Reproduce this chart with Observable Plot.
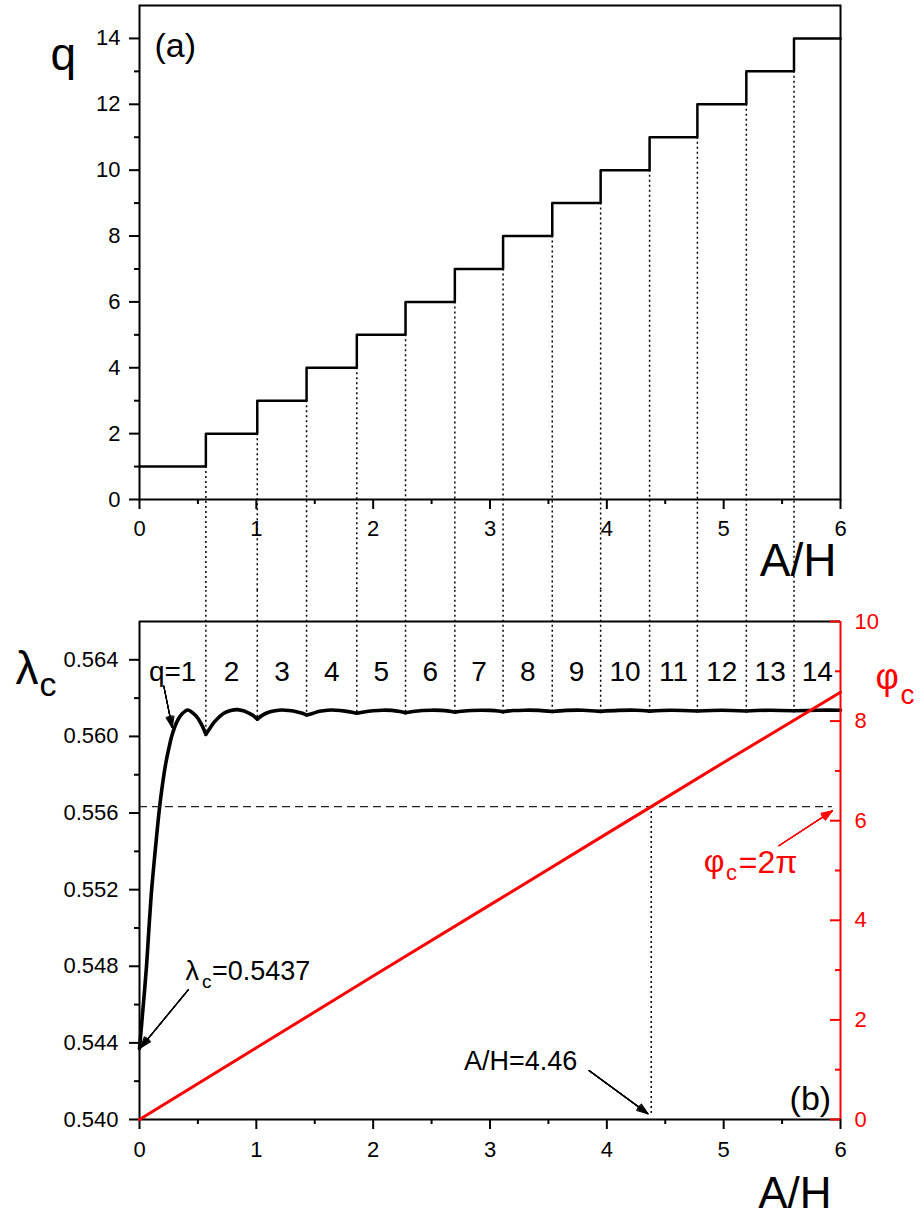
<!DOCTYPE html>
<html><head><meta charset="utf-8">
<script src="https://cdn.jsdelivr.net/npm/d3@7"></script>
<script src="https://cdn.jsdelivr.net/npm/@observablehq/plot@0.6"></script>
<style>
html,body{margin:0;padding:0;background:#fff;}
#wrap{position:relative;width:924px;height:1220px;overflow:hidden;}
#wrap svg{display:block;}
#phi{position:absolute;left:0;top:590px;}
</style></head><body>
<div id="wrap"><div id="top"></div><div id="lam"></div><div id="phi"></div></div>
<script>
// ---------- data ----------
const transitions = [0.568, 1.008, 1.430, 1.860, 2.277, 2.699, 3.112, 3.533, 3.947, 4.366, 4.775, 5.194, 5.602];
const qValues = [1,2,3,4,5,6,7,8,9,10,11,12,13,14];
const qLabels = ["q=1","2","3","4","5","6","7","8","9","10","11","12","13","14"];
const cuspLambda = [0.56011, 0.5609, 0.56112, 0.56121, 0.56124, 0.56127, 0.56129, 0.5613, 0.56131, 0.56132, 0.56133, 0.56133, 0.56134];

const lambdaA = [0, 0.02, 0.04, 0.06, 0.08, 0.10, 0.12, 0.137, 0.17, 0.197, 0.225, 0.252, 0.28, 0.323, 0.365, 0.414, 0.46, 0.494, 0.537, 0.568,
  0.60, 0.636, 0.68, 0.722, 0.78, 0.836, 0.88, 0.922, 0.97, 1.008,
  1.05, 1.10, 1.16, 1.22, 1.28, 1.35, 1.40, 1.43,
  1.48, 1.54, 1.61, 1.68, 1.76, 1.82, 1.86,
  1.92, 2.0, 2.08, 2.16, 2.23, 2.277,
  2.34, 2.42, 2.50, 2.58, 2.65, 2.699,
  2.76, 2.84, 2.92, 3.0, 3.07, 3.112,
  3.2, 3.3, 3.42, 3.533, 3.65, 3.8, 3.947, 4.1, 4.25, 4.366, 4.55, 4.775, 4.98, 5.194, 5.4, 5.602, 5.8, 6.0];
const lambdaV = [0.5437, 0.5451, 0.5465, 0.5480, 0.5499, 0.5517, 0.5531, 0.5542, 0.5562, 0.5575, 0.5586, 0.5594, 0.5601, 0.5608, 0.56118, 0.56138, 0.5612, 0.5610, 0.56055, 0.56011,
  0.5604, 0.56072, 0.5610, 0.56121, 0.56135, 0.5614, 0.56135, 0.56126, 0.5611, 0.5609,
  0.5611, 0.56125, 0.56134, 0.56138, 0.56135, 0.56128, 0.5612, 0.56112,
  0.5612, 0.56131, 0.56137, 0.56137, 0.56132, 0.56126, 0.56121,
  0.56128, 0.56134, 0.56137, 0.56136, 0.5613, 0.56124,
  0.5613, 0.56135, 0.56137, 0.56136, 0.56132, 0.56127,
  0.56131, 0.56135, 0.56137, 0.56136, 0.56133, 0.56129,
  0.56135, 0.56137, 0.56136, 0.5613, 0.56136, 0.56137, 0.56131, 0.56136, 0.56137, 0.56132, 0.56137, 0.56133, 0.56137, 0.56133, 0.56137, 0.56134, 0.56137, 0.56137];

const phiA = [0, 1, 2, 3, 4, 4.38, 5, 6];
const phiV = [0, 1.44, 2.88, 4.31, 5.74, 6.283, 7.17, 8.58];
const phiCritical = 2 * Math.PI;
const aCritical = 4.38;

const xTicks = [0,1,2,3,4,5,6];
const xMinor = [0.5,1.5,2.5,3.5,4.5,5.5];
const qTicks = [0,2,4,6,8,10,12,14];
const qMinor = [1,3,5,7,9,11,13];
const lamTicks = [0.540,0.544,0.548,0.552,0.556,0.560,0.564];
const lamMinor = [0.542,0.546,0.550,0.554,0.558,0.562];
const phiTicks = [0,2,4,6,8,10];
const phiMinor = [1,3,5,7,9];

// ---------- derived tables ----------
const stepX = [0, ...transitions, 6];
const stepQ = [...qValues, 14];
const stepData = stepX.map((x, i) => ({x, q: stepQ[i]}));
const bounds = [0, ...transitions, 6];
// split the lambda curve into one smooth piece per q interval (cusps at the transitions)
const lambdaData = [];
for (let s = 0; s < bounds.length - 1; s++) {
  lambdaA.forEach((a, i) => {
    if (a >= bounds[s] - 1e-9 && a <= bounds[s + 1] + 1e-9) lambdaData.push({a, v: lambdaV[i], seg: s});
  });
}
const phiData = phiA.map((a, i) => ({a, v: phiV[i]}));
const qMid = qLabels.map((_, i) => (bounds[i] + bounds[i + 1]) / 2);

const FONT = "'Liberation Sans', Arial, Helvetica, sans-serif";
const W = 924, ML = 139, MR = 84;
const dotted = {stroke: "black", strokeWidth: 1.5, strokeDasharray: "2,3"};

function arrowMarks(data, color) {
  return [40, 30, 20, 12, 5].map(h => Plot.arrow(data, {
    x1: "x1", y1: "y1", x2: "x2", y2: "y2", stroke: color, strokeWidth: 1.1,
    headLength: 16, headAngle: h
  }));
}

// ---------- panel (a) ----------
const topPlot = Plot.plot({
  width: W, height: 590, marginLeft: ML, marginRight: MR, marginTop: 5, marginBottom: 91,
  style: {fontFamily: FONT, fontSize: "22px", background: "white", overflow: "hidden", color: "black"},
  x: {domain: [0, 6]}, y: {domain: [0, 15]},
  marks: [
    Plot.ruleX(transitions, {x: d => d, y1: (d, i) => qValues[i], y2: -10, ...dotted}),
    Plot.line(stepData, {x: "x", y: "q", curve: "step-after", stroke: "black", strokeWidth: 2.5}),
    Plot.frame({stroke: "black", strokeWidth: 2}),
    Plot.axisX({ticks: xTicks, tickSize: 10, tickPadding: 11, fontSize: 22, strokeWidth: 2, label: null, tickFormat: d => String(d)}),
    Plot.axisX({ticks: xMinor, tickSize: 5, strokeWidth: 2, label: null, tickFormat: () => ""}),
    Plot.axisY({ticks: qTicks, tickSize: 10, tickPadding: 9, fontSize: 22, strokeWidth: 2, label: null, tickFormat: d => String(d)}),
    Plot.axisY({ticks: qMinor, tickSize: 5, strokeWidth: 2, label: null, tickFormat: () => ""}),
    Plot.text(["q"], {text: d => d, frameAnchor: "top-left", textAnchor: "start", lineAnchor: "bottom", dx: -89, dy: 64, fontSize: 46}),
    Plot.text(["(a)"], {text: d => d, x: () => 0.128, y: () => 13.45, textAnchor: "start", lineAnchor: "bottom", fontSize: 34}),
    Plot.text(["A/H"], {text: d => d, frameAnchor: "bottom-right", textAnchor: "end", lineAnchor: "bottom", dx: -4, dy: 76, fontSize: 46})
  ]
});
document.getElementById("top").appendChild(topPlot);

// ---------- panel (b), lambda ----------
const lamPlot = Plot.plot({
  width: W, height: 630, marginLeft: ML, marginRight: MR, marginTop: 31, marginBottom: 101,
  style: {fontFamily: FONT, fontSize: "22px", background: "white", overflow: "hidden", color: "black"},
  x: {domain: [0, 6]}, y: {domain: [0.540, 0.566]},
  marks: [
    Plot.ruleX(transitions, {x: d => d, y1: 0.6, y2: (d, i) => cuspLambda[i], ...dotted}),
    Plot.ruleY([0.566], {stroke: "black", strokeWidth: 2}),
    Plot.ruleY([0.540], {stroke: "black", strokeWidth: 2}),
    Plot.ruleX([0], {stroke: "black", strokeWidth: 2}),
    Plot.line(lambdaData, {x: "a", y: "v", z: "seg", curve: "catmull-rom", stroke: "black", strokeWidth: 3.6, strokeLinejoin: "round", strokeLinecap: "round"}),
    Plot.text(qLabels, {text: d => d, x: (d, i) => qMid[i], y: () => 0.56289, textAnchor: "middle", lineAnchor: "bottom", fontSize: 28}),
    ...arrowMarks([
      {x1: 0.208, y1: 0.56263, x2: 0.280, y2: 0.56046},
      {x1: 0.417, y1: 0.54677, x2: 0.0086, y2: 0.54374},
      {x1: 3.847, y1: 0.54256, x2: 4.352, y2: 0.54030}
    ], "black"),
    Plot.text(["λ"], {text: d => d, x: () => 0.394, y: () => 0.54726, textAnchor: "start", lineAnchor: "bottom", fontSize: 27}),
    Plot.text(["c"], {text: d => d, x: () => 0.535, y: () => 0.54684, textAnchor: "start", lineAnchor: "bottom", fontSize: 19}),
    Plot.text(["=0.5437"], {text: d => d, x: () => 0.62, y: () => 0.54726, textAnchor: "start", lineAnchor: "bottom", fontSize: 27}),
    Plot.text(["A/H=4.46"], {text: d => d, x: () => 2.777, y: () => 0.54256, textAnchor: "start", lineAnchor: "bottom", fontSize: 27}),
    Plot.text(["(b)"], {text: d => d, x: () => 5.92, y: () => 0.5405, textAnchor: "end", lineAnchor: "bottom", fontSize: 34}),
    Plot.axisX({ticks: xTicks, tickSize: 10, tickPadding: 12, fontSize: 22, strokeWidth: 2, label: null, tickFormat: d => String(d)}),
    Plot.axisX({ticks: xMinor, tickSize: 5, strokeWidth: 2, label: null, tickFormat: () => ""}),
    Plot.axisY({ticks: lamTicks, tickSize: 10, tickPadding: 11, fontSize: 22, strokeWidth: 2, label: null, tickFormat: d3.format(".3f")}),
    Plot.axisY({ticks: lamMinor, tickSize: 5, strokeWidth: 2, label: null, tickFormat: () => ""}),
    Plot.text(["λ"], {text: d => d, frameAnchor: "top-left", textAnchor: "start", lineAnchor: "bottom", dx: -124, dy: 62, fontSize: 46}),
    Plot.text(["c"], {text: d => d, frameAnchor: "top-left", textAnchor: "start", lineAnchor: "bottom", dx: -100, dy: 74, fontSize: 34}),
    Plot.text(["A/H"], {text: d => d, frameAnchor: "bottom-right", textAnchor: "end", lineAnchor: "bottom", dx: -9, dy: 88, fontSize: 44})
  ]
});
document.getElementById("lam").appendChild(lamPlot);

// ---------- panel (b), phi overlay ----------
const phiPlot = Plot.plot({
  width: W, height: 630, marginLeft: ML, marginRight: MR, marginTop: 31, marginBottom: 101,
  style: {fontFamily: FONT, fontSize: "22px", background: "transparent", overflow: "hidden", color: "red"},
  x: {domain: [0, 6], axis: null}, y: {domain: [0, 10]},
  marks: [
    Plot.ruleY([phiCritical], {x1: 0, x2: 5.93, stroke: "#222", strokeWidth: 1.4, strokeDasharray: "8,5"}),
    Plot.ruleX([aCritical], {y1: 0.12, y2: phiCritical, ...dotted}),
    Plot.line(phiData, {x: "a", y: "v", stroke: "red", strokeWidth: 3}),
    Plot.ruleX([6], {stroke: "red", strokeWidth: 2}),
    Plot.axisY({anchor: "left", frameAnchor: "right", ticks: phiTicks, tickSize: 10, strokeWidth: 2, label: null, tickFormat: () => "", color: "red"}),
    Plot.axisY({anchor: "left", frameAnchor: "right", ticks: phiMinor, tickSize: 5, strokeWidth: 2, label: null, tickFormat: () => "", color: "red"}),
    Plot.axisY({anchor: "right", ticks: phiTicks, tickSize: 0, tickPadding: 14, fontSize: 22, label: null, tickFormat: d => String(d), color: "red"}),
    ...arrowMarks([{x1: 5.474, y1: 5.50, x2: 5.931, y2: 6.20}], "red"),
    Plot.text(["φ"], {text: d => d, x: () => 4.83, y: () => 4.96, textAnchor: "start", lineAnchor: "bottom", fontSize: 32, fill: "red"}),
    Plot.text(["c"], {text: d => d, x: () => 5.02, y: () => 4.80, textAnchor: "start", lineAnchor: "bottom", fontSize: 22, fill: "red"}),
    Plot.text(["=2π"], {text: d => d, x: () => 5.13, y: () => 4.955, textAnchor: "start", lineAnchor: "bottom", fontSize: 32, fill: "red"}),
    Plot.text(["φ"], {text: d => d, frameAnchor: "top-right", textAnchor: "start", lineAnchor: "bottom", dx: 35, dy: 67, fontSize: 36, fill: "red"}),
    Plot.text(["c"], {text: d => d, frameAnchor: "top-right", textAnchor: "start", lineAnchor: "bottom", dx: 60, dy: 82, fontSize: 28, fill: "red"})
  ]
});
document.getElementById("phi").appendChild(phiPlot);
</script>
</body></html>
